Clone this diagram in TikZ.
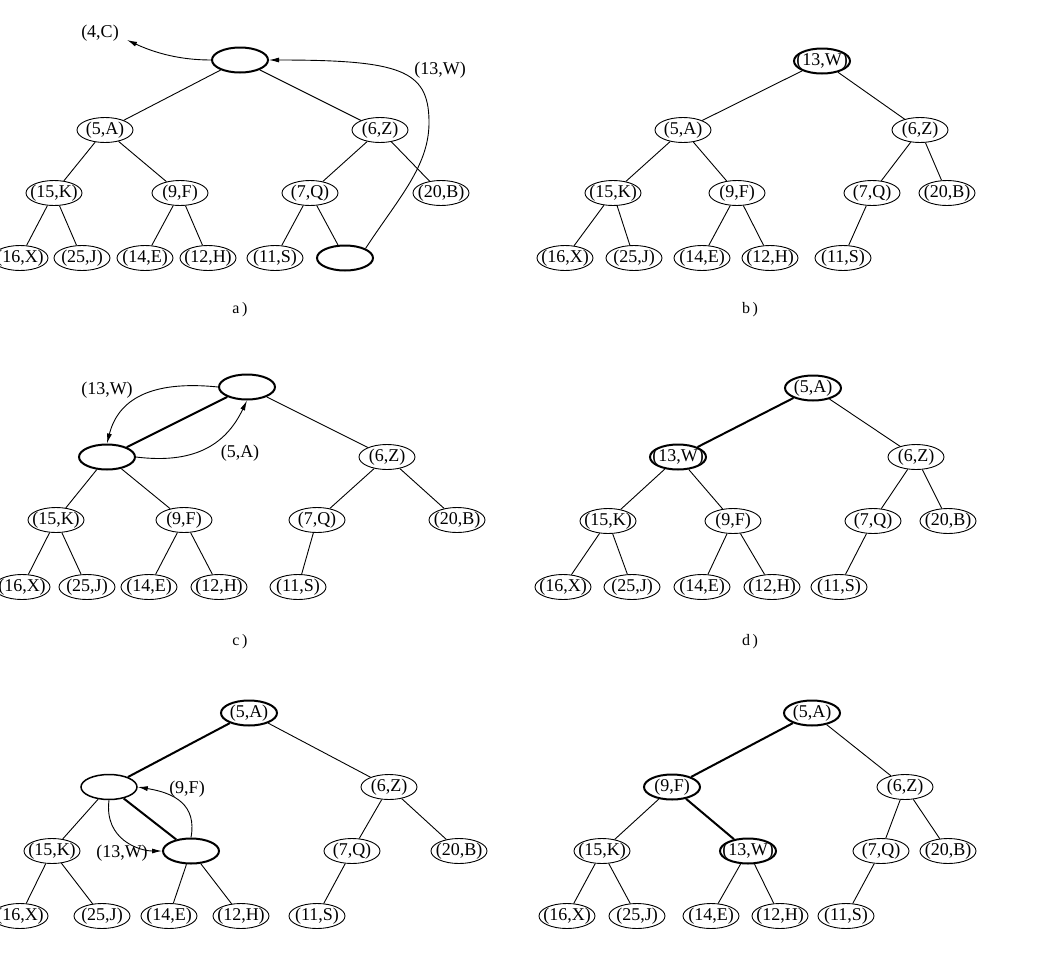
\documentclass[tikz,border=0pt]{standalone}
\usepackage{fontspec}
\setmainfont{Liberation Serif}
\usetikzlibrary{shapes.geometric,arrows.meta}
\newcommand{\nlab}[1]{\makebox[0pt]{#1}}
\tikzset{
  nd/.style={ellipse,draw,line width=0.9pt,minimum width=56pt,minimum height=25pt,inner sep=0pt,font=\fontsize{18}{20}\selectfont},
  hl/.style={line width=2pt},
  md/.style={line width=1.5pt},
  ed/.style={line width=0.9pt},
  hed/.style={line width=2pt},
  arr/.style={line width=0.9pt,-{Latex[length=10pt,width=5pt]}},
  lbl/.style={inner sep=0pt,font=\fontsize{18}{20}\selectfont},
  captxt/.style={inner sep=0pt,font=\fontsize{16}{18}\selectfont}
}
\begin{document}
\begin{tikzpicture}[x=1pt,y=-1pt]
\useasboundingbox (0,0) rectangle (1037,967);
% ---------- panel a ----------
\node[nd,hl] (aR) at (240,60) {};
\node[nd] (aA) at (105,130) {\nlab{(5,A)}};
\node[nd] (aZ) at (380,130) {\nlab{(6,Z)}};
\node[nd] (aK) at (54,193) {\nlab{(15,K)}};
\node[nd] (aF) at (180,193) {\nlab{(9,F)}};
\node[nd] (aQ) at (310,193) {\nlab{(7,Q)}};
\node[nd] (aB) at (441,193) {\nlab{(20,B)}};
\node[nd] (aX) at (20,258) {\nlab{(16,X)}};
\node[nd] (aJ) at (82,258) {\nlab{(25,J)}};
\node[nd] (aE) at (145,258) {\nlab{(14,E)}};
\node[nd] (aH) at (208,258) {\nlab{(12,H)}};
\node[nd] (aS) at (275,258) {\nlab{(11,S)}};
\node[nd,hl] (aN) at (345,258) {};
\draw[ed] (aR)--(aA); \draw[ed] (aR)--(aZ);
\draw[ed] (aA)--(aK); \draw[ed] (aA)--(aF);
\draw[ed] (aZ)--(aQ); \draw[ed] (aZ)--(aB);
\draw[ed] (aK)--(aX); \draw[ed] (aK)--(aJ);
\draw[ed] (aF)--(aE); \draw[ed] (aF)--(aH);
\draw[ed] (aQ)--(aS); \draw[ed] (aQ)--(aN);
\node[lbl] (aC) at (100,33) {(4,C)};
\coordinate (aCt) at (127,40);
\draw[arr] (aR.west) .. controls (180,60) and (155,53) .. (aCt);
\node[lbl] (aW) at (440,70) {(13,W)};
\draw[arr] (aN.north east) .. controls (400,196) and (430,165) .. (429,120) .. controls (428,70) and (400,60) .. (aR.east);
\node[captxt] (capa) at (240,310) {a\,)};
% ---------- panel b ----------
\node[nd,hl] (bR) at (822,61) {\nlab{(13,W)}};
\node[nd] (bA) at (683,130) {\nlab{(5,A)}};
\node[nd] (bZ) at (920,130) {\nlab{(6,Z)}};
\node[nd] (bK) at (613,193) {\nlab{(15,K)}};
\node[nd] (bF) at (737,193) {\nlab{(9,F)}};
\node[nd] (bQ) at (872,193) {\nlab{(7,Q)}};
\node[nd] (bB) at (947,193) {\nlab{(20,B)}};
\node[nd] (bX) at (565,258) {\nlab{(16,X)}};
\node[nd] (bJ) at (634,258) {\nlab{(25,J)}};
\node[nd] (bE) at (702,258) {\nlab{(14,E)}};
\node[nd] (bH) at (770,258) {\nlab{(12,H)}};
\node[nd] (bS) at (843,258) {\nlab{(11,S)}};
\draw[ed] (bR)--(bA); \draw[ed] (bR)--(bZ);
\draw[ed] (bA)--(bK); \draw[ed] (bA)--(bF);
\draw[ed] (bZ)--(bQ); \draw[ed] (bZ)--(bB);
\draw[ed] (bK)--(bX); \draw[ed] (bK)--(bJ);
\draw[ed] (bF)--(bE); \draw[ed] (bF)--(bH);
\draw[ed] (bQ)--(bS);
\node[captxt] (capb) at (750,310) {b\,)};
% ---------- panel c ----------
\node[nd,hl] (cR) at (247,387) {};
\node[nd,hl] (cL) at (107,457) {};
\node[nd] (cZ) at (387,457) {\nlab{(6,Z)}};
\node[nd] (cK) at (56,520) {\nlab{(15,K)}};
\node[nd] (cF) at (184,520) {\nlab{(9,F)}};
\node[nd] (cQ) at (317,520) {\nlab{(7,Q)}};
\node[nd] (cB) at (457,520) {\nlab{(20,B)}};
\node[nd] (cX) at (22,587) {\nlab{(16,X)}};
\node[nd] (cJ) at (87,587) {\nlab{(25,J)}};
\node[nd] (cE) at (149,587) {\nlab{(14,E)}};
\node[nd] (cH) at (219,587) {\nlab{(12,H)}};
\node[nd] (cS) at (298,587) {\nlab{(11,S)}};
\draw[hed] (cR)--(cL); \draw[ed] (cR)--(cZ);
\draw[ed] (cL)--(cK); \draw[ed] (cL)--(cF);
\draw[ed] (cZ)--(cQ); \draw[ed] (cZ)--(cB);
\draw[ed] (cK)--(cX); \draw[ed] (cK)--(cJ);
\draw[ed] (cF)--(cE); \draw[ed] (cF)--(cH);
\draw[ed] (cQ)--(cS);
\node[lbl] (cW) at (107,390) {(13,W)};
\node[lbl] (cA) at (240,453) {(5,A)};
\draw[arr] (cR.west) .. controls (150,380) and (118,400) .. (cL.north);
\draw[arr] (cL.east) .. controls (200,465) and (228,440) .. (cR.south);
\node[captxt] (capc) at (240,642) {c\,)};
% ---------- panel d ----------
\node[nd,hl] (dR) at (813,388) {\nlab{(5,A)}};
\node[nd,hl] (dW) at (678,457) {\nlab{(13,W)}};
\node[nd] (dZ) at (916,457) {\nlab{(6,Z)}};
\node[nd] (dK) at (608,521) {\nlab{(15,K)}};
\node[nd] (dF) at (733,521) {\nlab{(9,F)}};
\node[nd] (dQ) at (873,521) {\nlab{(7,Q)}};
\node[nd] (dB) at (948,521) {\nlab{(20,B)}};
\node[nd] (dX) at (563,587) {\nlab{(16,X)}};
\node[nd] (dJ) at (632,587) {\nlab{(25,J)}};
\node[nd] (dE) at (702,587) {\nlab{(14,E)}};
\node[nd] (dH) at (772,587) {\nlab{(12,H)}};
\node[nd] (dS) at (839,587) {\nlab{(11,S)}};
\draw[hed] (dR)--(dW); \draw[ed] (dR)--(dZ);
\draw[ed] (dW)--(dK); \draw[ed] (dW)--(dF);
\draw[ed] (dZ)--(dQ); \draw[ed] (dZ)--(dB);
\draw[ed] (dK)--(dX); \draw[ed] (dK)--(dJ);
\draw[ed] (dF)--(dE); \draw[ed] (dF)--(dH);
\draw[ed] (dQ)--(dS);
\node[captxt] (capd) at (750,642) {d\,)};
% ---------- panel e ----------
\node[nd,hl] (eR) at (249,713) {\nlab{(5,A)}};
\node[nd,md] (eL) at (109,787) {};
\node[nd] (eZ) at (389,787) {\nlab{(6,Z)}};
\node[nd] (eK) at (52,851) {\nlab{(15,K)}};
\node[nd,hl] (eN) at (191,851) {};
\node[nd] (eQ) at (352,851) {\nlab{(7,Q)}};
\node[nd] (eB) at (459,851) {\nlab{(20,B)}};
\node[nd] (eX) at (20,916) {\nlab{(16,X)}};
\node[nd] (eJ) at (102,916) {\nlab{(25,J)}};
\node[nd] (eE) at (169,916) {\nlab{(14,E)}};
\node[nd] (eH) at (241,916) {\nlab{(12,H)}};
\node[nd] (eS) at (317,916) {\nlab{(11,S)}};
\draw[hed] (eR)--(eL); \draw[ed] (eR)--(eZ);
\draw[ed] (eL)--(eK); \draw[hed] (eL)--(eN);
\draw[ed] (eZ)--(eQ); \draw[ed] (eZ)--(eB);
\draw[ed] (eK)--(eX); \draw[ed] (eK)--(eJ);
\draw[ed] (eN)--(eE); \draw[ed] (eN)--(eH);
\draw[ed] (eQ)--(eS);
\node[lbl] (eFl) at (187,789) {(9,F)};
\node[lbl] (eWl) at (122,853) {(13,W)};
\draw[arr] (eN.north) .. controls (197,805) and (175,793) .. (eL.east);
\draw[arr] (eL.south) .. controls (104,840) and (140,851) .. (eN.west);
% ---------- panel f ----------
\node[nd,hl] (fR) at (812,713) {\nlab{(5,A)}};
\node[nd,hl] (fF) at (672,787) {\nlab{(9,F)}};
\node[nd] (fZ) at (905,787) {\nlab{(6,Z)}};
\node[nd] (fK) at (602,851) {\nlab{(15,K)}};
\node[nd,hl] (fW) at (748,851) {\nlab{(13,W)}};
\node[nd] (fQ) at (881,851) {\nlab{(7,Q)}};
\node[nd] (fB) at (948,851) {\nlab{(20,B)}};
\node[nd] (fX) at (567,916) {\nlab{(16,X)}};
\node[nd] (fJ) at (637,916) {\nlab{(25,J)}};
\node[nd] (fE) at (711,916) {\nlab{(14,E)}};
\node[nd] (fH) at (780,916) {\nlab{(12,H)}};
\node[nd] (fS) at (846,916) {\nlab{(11,S)}};
\draw[hed] (fR)--(fF); \draw[ed] (fR)--(fZ);
\draw[ed] (fF)--(fK); \draw[hed] (fF)--(fW);
\draw[ed] (fZ)--(fQ); \draw[ed] (fZ)--(fB);
\draw[ed] (fK)--(fX); \draw[ed] (fK)--(fJ);
\draw[ed] (fW)--(fE); \draw[ed] (fW)--(fH);
\draw[ed] (fQ)--(fS);
\end{tikzpicture}
\end{document}
